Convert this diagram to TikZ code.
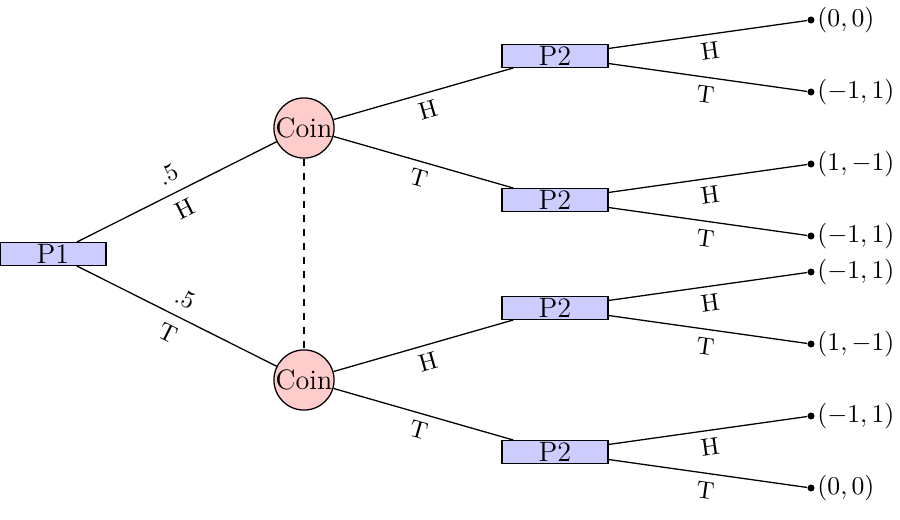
\documentclass[tikz,border=0pt]{standalone}
\usepackage{amsmath}

\begin{document}
\begin{tikzpicture}[line width=0.55pt, every node/.style={font=\fontsize{10.5}{12}\selectfont},
	player/.style={draw, fill=blue!20, minimum width=1.59cm, minimum height=0.34cm, inner sep=0pt, font=\large},
	chance/.style={draw, circle, fill=red!20, minimum size=0.87cm, inner sep=0pt, font=\large},
	payoff/.style={circle, fill, inner sep=0pt, minimum size=3pt},
	outcome/.style={inner sep=0.7pt}]
	\useasboundingbox (-0.795,-3.99) rectangle (12.705,3.81);
	% first mover and the two coin tosses
	\node[player] (p1) at (0,0) {P1};
	\node[chance] (cH) at (3.765,1.89) {Coin};
	\node[chance] (cT) at (3.765,-1.89) {Coin};
	\draw (p1) -- node[above=1pt, sloped] {.5} node[below=1pt, sloped] {H} (cH);
	\draw (p1) -- node[above=1pt, sloped] {.5} node[below=1pt, sloped] {T} (cT);
	\draw[dashed] (cH) -- (cT);
	% second mover after each coin
	\foreach \c/\y in {H/1.89, T/-1.89} {
		\node[player] (p\c H) at (7.53,{\y+1.08}) {P2};
		\node[player] (p\c T) at (7.53,{\y-1.08}) {P2};
		\draw (c\c) -- node[below, sloped] {H} (p\c H);
		\draw (c\c) -- node[below, sloped] {T} (p\c T);
	}
	% payoffs
	\foreach \p/\y/\h/\t in {HH/2.97/{(0,0)}/{(-1,1)}, HT/0.81/{(1,-1)}/{(-1,1)}, TH/-0.81/{(-1,1)}/{(1,-1)}, TT/-2.97/{(-1,1)}/{(0,0)}} {
		\node[payoff] (l\p H) at (11.37,{\y+0.54}) {};
		\node[payoff] (l\p T) at (11.37,{\y-0.54}) {};
		\node[outcome, anchor=west] (o\p H) at (l\p H.east) {$\h$};
		\node[outcome, anchor=west] (o\p T) at (l\p T.east) {$\t$};
		\draw (p\p) -- node[below, sloped] {H} (l\p H);
		\draw (p\p) -- node[below, sloped] {T} (l\p T);
	}
\end{tikzpicture}
\end{document}
